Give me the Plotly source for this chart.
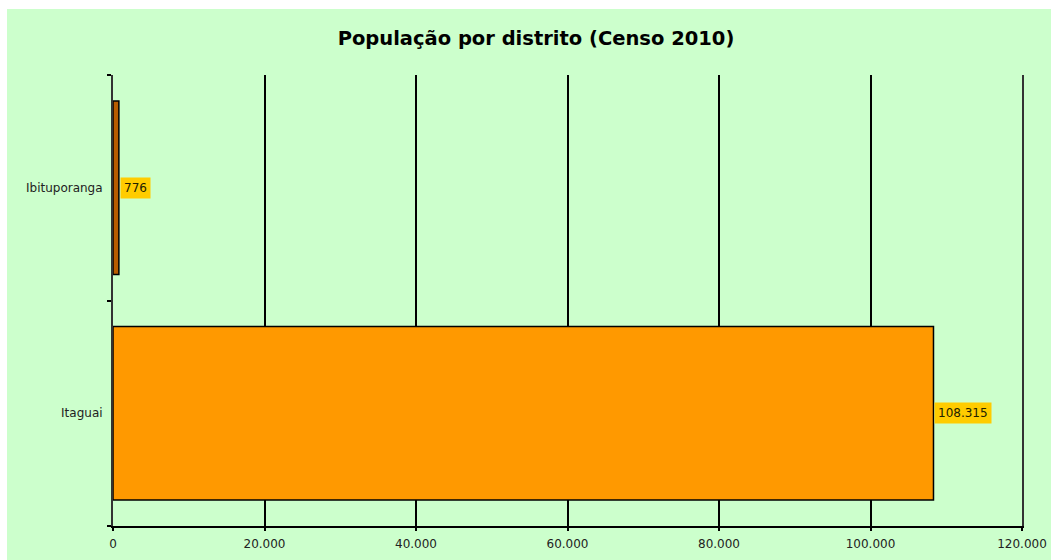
import plotly.graph_objects as go

categories = ["Itaguai", "Ibituporanga"]
population = [108315, 776]
bar_colors = ["#FF9900", "#B85C00"]
label_texts = ["108.315", "776"]
x_ticks = [0, 20000, 40000, 60000, 80000, 100000, 120000]
x_tick_labels = ["0", "20.000", "40.000", "60.000", "80.000", "100.000", "120.000"]
title_text = "População por distrito (Censo 2010)"

W, H = 1051, 560
L, R, T, B = 113, 29, 75, 34
pw, ph = W - L - R, H - T - B
green = "#CCFFCC"
FONT = "DejaVu Sans, Verdana, sans-serif"

fig = go.Figure()
fig.add_trace(go.Bar(
    y=categories, x=population, orientation="h",
    marker=dict(color=bar_colors, line=dict(color="#000000", width=1.5)),
    hoverinfo="skip", showlegend=False,
))

for cat, val, txt in zip(categories, population, label_texts):
    fig.add_annotation(
        x=val, y=cat, xref="x", yref="y", text=txt, showarrow=False,
        xanchor="left", yanchor="middle", xshift=1,
        bgcolor="#FFCC00", borderpad=3,
        font=dict(family=FONT, size=12, color="#222200"),
    )

# white border strips outside the green page area
fig.add_shape(type="rect", xref="paper", yref="paper",
              x0=-L / pw, x1=1 + R / pw, y0=1 + (T - 9) / ph, y1=1 + T / ph,
              fillcolor="white", line=dict(width=0), layer="above")
fig.add_shape(type="rect", xref="paper", yref="paper",
              x0=-L / pw, x1=-(L - 7) / pw, y0=-B / ph, y1=1 + T / ph,
              fillcolor="white", line=dict(width=0), layer="above")

fig.update_layout(
    width=W, height=H, autosize=False,
    margin=dict(l=L, r=R, t=T, b=B, pad=0, autoexpand=False),
    paper_bgcolor=green, plot_bgcolor=green,
    separators=",.",
    bargap=0.23,
    hovermode=False,
    title=dict(text="<b>" + title_text + "</b>", x=536 / W, xref="container", xanchor="center",
               y=1 - 38 / H, yref="container", yanchor="middle",
               font=dict(family=FONT, size=19.5, color="#000000")),
    font=dict(family=FONT, size=12, color="#222222"),
)

fig.update_xaxes(
    range=[0, 120000], tickvals=x_ticks, ticktext=x_tick_labels,
    showgrid=True, gridcolor="#000000", gridwidth=2,
    showline=True, linecolor="#000000", linewidth=2,
    ticks="outside", ticklen=3, tickcolor="#000000", tickwidth=2,
    ticklabelstandoff=3,
    tickfont=dict(family=FONT, size=12, color="#222222"),
    zeroline=False, fixedrange=True, automargin=False,
)
fig.update_yaxes(
    categoryorder="array", categoryarray=categories,
    showgrid=False,
    showline=True, mirror=True, linecolor="#333333", linewidth=2,
    ticks="outside", tickson="boundaries", ticklen=4, tickcolor="#000000", tickwidth=2,
    ticklabelstandoff=6,
    tickfont=dict(family=FONT, size=12, color="#222222"),
    fixedrange=True, automargin=False,
)

fig.write_html(
    "out.html",
    config={"displayModeBar": False},
    post_script="document.body.style.margin='0';document.body.style.overflow='hidden';",
)
